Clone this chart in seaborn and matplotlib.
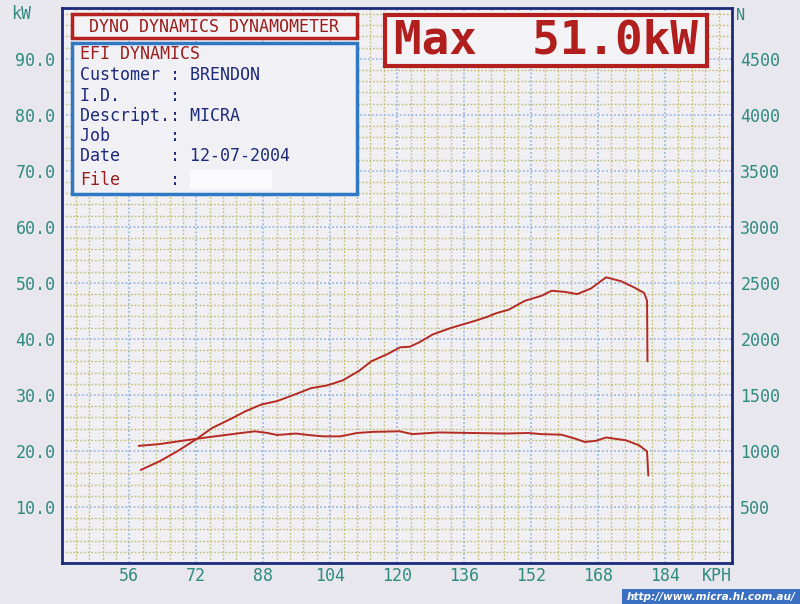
import numpy as np
import pandas as pd
import matplotlib
matplotlib.use("Agg")
import matplotlib.pyplot as plt
from matplotlib.patches import Rectangle
from matplotlib.ticker import FixedLocator, FuncFormatter
import seaborn as sns

# ---------------- data ----------------
kph_power = [58.7, 63.1, 67.6, 72.0, 75.8, 80.2, 83.8, 87.6, 91.3, 94.9, 99.4, 103.3,
             107.0, 110.9, 113.8, 117.7, 120.7, 123.0, 125.3, 128.5, 133.0, 137.6,
             141.4, 143.7, 146.6, 150.5, 154.5, 156.9, 160.0, 163.0, 166.3, 169.9,
             173.5, 176.6, 179.0, 179.7, 179.8]
kw_power = [16.6, 18.1, 20.0, 22.1, 24.1, 25.7, 27.1, 28.3, 28.9, 29.9, 31.2, 31.7,
            32.6, 34.3, 36.0, 37.3, 38.5, 38.6, 39.4, 40.8, 42.0, 43.0,
            43.9, 44.6, 45.2, 46.8, 47.7, 48.6, 48.4, 48.0, 49.0, 51.0,
            50.3, 49.2, 48.2, 46.8, 36.0]

kph_force = [58.2, 63.0, 67.6, 72.4, 76.4, 80.2, 83.8, 86.0, 89.0, 91.3, 95.8, 99.3,
             102.3, 106.4, 110.4, 114.2, 120.6, 123.6, 130.0, 137.9, 145.9, 151.3,
             154.4, 159.2, 162.5, 164.8, 167.5, 169.9, 174.6, 177.8, 179.7, 180.0]
n_force = [1045, 1060, 1085, 1110, 1130, 1148, 1165, 1175, 1160, 1142, 1155, 1140,
           1130, 1130, 1160, 1170, 1175, 1150, 1165, 1160, 1155, 1160,
           1150, 1145, 1110, 1080, 1090, 1120, 1095, 1050, 995, 780]

kw_ticks = [10, 20, 30, 40, 50, 60, 70, 80, 90]
n_ticks = [500, 1000, 1500, 2000, 2500, 3000, 3500, 4000, 4500]
kph_ticks = [56, 72, 88, 104, 120, 136, 152, 168, 184]

# ---------------- style ----------------
sns.set_style("white")
plt.rcParams["font.family"] = ["DejaVu Sans Mono", "DejaVu Sans"]

TEAL = "#2f8a80"
NAVY = "#1c2a7c"
RED = "#b52a22"
DARKRED = "#9c1c1c"
YEL = "#c4bd72"
BLUE = "#8fb2dc"

fig = plt.figure(figsize=(8, 6.04), dpi=100, facecolor="#e7e7ed")
L, R, B, T = 0.078, 0.915, 0.068, 0.986
ax = fig.add_axes([L, B, R - L, T - B])
ax.set_facecolor("#f0eff3")

df_p = pd.DataFrame({"KPH": kph_power, "kW": kw_power})
df_n = pd.DataFrame({"KPH": kph_force, "N": n_force})

sns.lineplot(data=df_p, x="KPH", y="kW", ax=ax, sort=False, estimator=None,
             color=RED, linewidth=1.4, zorder=4)

ax.set_xlim(40, 200)
ax.set_ylim(0, 99)

# grid: blue major, olive minor
ax.xaxis.set_major_locator(FixedLocator(np.arange(40, 201, 16)))
ax.xaxis.set_minor_locator(FixedLocator(np.arange(40, 200.1, 3.2)))
ax.yaxis.set_major_locator(FixedLocator(np.arange(0, 100, 10)))
ax.yaxis.set_minor_locator(FixedLocator(np.arange(0, 100, 2)))
ax.grid(which="minor", color=YEL, linestyle=(0, (1.2, 1.4)), linewidth=1.0, zorder=1)
ax.grid(which="major", color=BLUE, linestyle=(0, (1.2, 1.4)), linewidth=1.1, zorder=2)
ax.set_axisbelow(True)

ax.xaxis.set_major_formatter(FuncFormatter(lambda v, p: f"{int(round(v))}" if int(round(v)) in kph_ticks else ""))
ax.yaxis.set_major_formatter(FuncFormatter(lambda v, p: f"{v:.1f}" if int(round(v)) in kw_ticks else ""))
ax.tick_params(axis="both", which="both", length=0, labelsize=12, labelcolor=TEAL, pad=5)
ax.tick_params(axis="x", pad=3)
ax.set_xlabel("")
ax.set_ylabel("")
for s in ax.spines.values():
    s.set_color(NAVY)
    s.set_linewidth(2.0)

ax2 = ax.twinx()
sns.lineplot(data=df_n, x="KPH", y="N", ax=ax2, sort=False, estimator=None,
             color=RED, linewidth=1.4, zorder=4)
ax2.set_ylim(0, 99 * 50)
ax2.yaxis.set_major_locator(FixedLocator(n_ticks))
ax2.yaxis.set_major_formatter(FuncFormatter(lambda v, p: f"{int(v)}"))
ax2.tick_params(axis="y", length=0, labelsize=12, labelcolor=TEAL, pad=6)
ax2.set_ylabel("")
ax2.grid(False)
for s in ax2.spines.values():
    s.set_visible(False)

# unit labels
fig.text(0.027, 0.977, "kW", color=TEAL, fontsize=12, ha="center", va="center")
fig.text(0.920, 0.974, "N", color=TEAL, fontsize=11, ha="left", va="center")
ax.annotate("KPH", xy=(196.5, 0), xycoords=("data", "axes fraction"), xytext=(0, -3),
            textcoords="offset points", ha="center", va="top", fontsize=12, color=TEAL)

def px_rect(x0, y0, x1, y1, **kw):
    r = Rectangle((x0 / 800, 1 - y1 / 604), (x1 - x0) / 800, (y1 - y0) / 604,
                  transform=fig.transFigure, **kw)
    fig.add_artist(r)
    return r

def px_text(x, y, s, **kw):
    fig.text(x / 800, 1 - y / 604, s, **kw)

# title box
px_rect(72, 14, 357, 38, facecolor="#f3f3f6", edgecolor="#b3221f", linewidth=2.5, zorder=6)
px_text(214, 26.5, "DYNO DYNAMICS DYNAMOMETER", color=DARKRED, fontsize=12,
        ha="center", va="center", zorder=7)

# info box
px_rect(72, 43, 357, 194, facecolor="#f1f1f5", edgecolor="#2f78c4", linewidth=2.5, zorder=6)
info = [("EFI DYNAMICS", DARKRED, 54),
        ("Customer : BRENDON", NAVY, 75),
        ("I.D.     :", NAVY, 96),
        ("Descript.: MICRA", NAVY, 116),
        ("Job      :", NAVY, 136),
        ("Date     : 12-07-2004", NAVY, 156)]
for s, c, y in info:
    px_text(80, y, s, color=c, fontsize=12, ha="left", va="center", zorder=7)
px_text(80, 180, "File", color=DARKRED, fontsize=12, ha="left", va="center", zorder=7)
px_text(170, 180, ":", color=NAVY, fontsize=12, ha="left", va="center", zorder=7)
px_rect(190, 170, 272, 189, facecolor="#fbfbfd", edgecolor="none", zorder=7)

# max box
px_rect(385, 15, 707, 66, facecolor="#f3f3f6", edgecolor="#b3201e", linewidth=3, zorder=6)
px_text(546, 41, "Max  51.0kW", color="#b01e1e", fontsize=33, fontweight="bold",
        ha="center", va="center", zorder=7)

# watermark
px_rect(622, 589, 800, 604, facecolor="#3b6fc2", edgecolor="none", zorder=6)
px_text(711, 596.5, "http://www.micra.hl.com.au/", color="white", fontsize=7.6,
        fontstyle="italic", fontweight="bold", family=["DejaVu Sans"],
        ha="center", va="center", zorder=7)

fig.savefig("out.png", dpi=100, facecolor=fig.get_facecolor())
